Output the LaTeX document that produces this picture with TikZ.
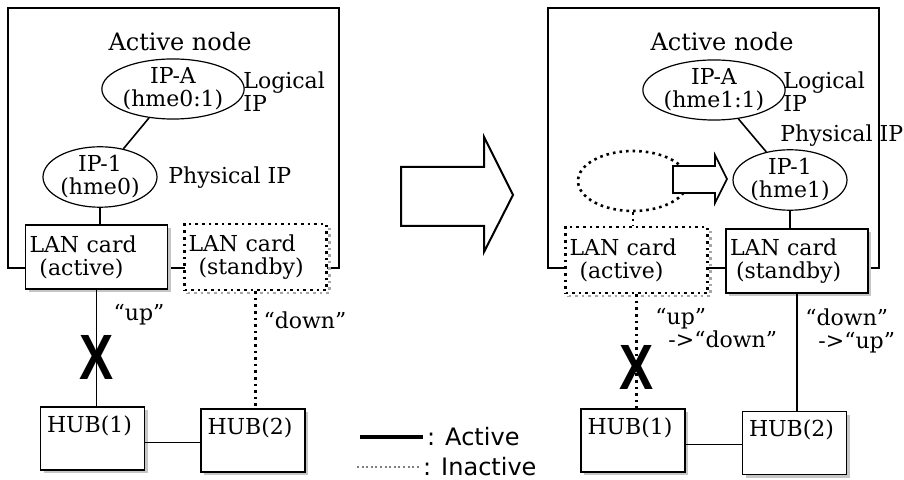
\documentclass[tikz,border=0pt]{standalone}
\usepackage{fontspec}
\setmainfont{DejaVu Serif}
\newfontfamily\legendfont{DejaVu Sans}
\newfontfamily\markfont{Liberation Sans}
\usetikzlibrary{shapes.geometric,shadows}
\tikzset{
  frame/.style={draw,line width=0.8pt},
  title/.style={font=\fontsize{12}{12}\selectfont},
  ipnode/.style={ellipse,draw,line width=0.6pt,fill=white,inner sep=0pt,minimum width=57pt,minimum height=24pt,align=center},
  ghost/.style={ellipse,draw,dotted,line width=1.3pt,minimum width=55pt,minimum height=30pt},
  note/.style={inner sep=0pt,align=left},
  card/.style={draw,line width=0.8pt,fill=white,minimum height=32pt,text width=67pt,inner xsep=2pt,align=left,
    drop shadow={opacity=1,fill=gray!45,shadow xshift=1.5pt,shadow yshift=-1.5pt}},
  offcard/.style={draw,dotted,line width=1.3pt,fill=white,minimum height=33pt,text width=67pt,inner xsep=2pt,align=left,
    general shadow={draw=gray!70,dotted,line width=1.3pt,shadow xshift=1.5pt,shadow yshift=-1.5pt}},
  hub/.style={draw,line width=0.9pt,fill=white,minimum width=52pt,minimum height=31.5pt,
    drop shadow={opacity=1,fill=gray!45,shadow xshift=1.5pt,shadow yshift=-1.5pt}},
  hubtext/.style={anchor=north west,inner sep=0pt,xshift=3.5pt,yshift=-4.5pt},
  live/.style={line width=0.8pt},
  dead/.style={dotted,line width=1.3pt},
  xmark/.style={inner sep=0pt,font=\markfont\bfseries\fontsize{32}{32}\selectfont},
  legendtext/.style={inner sep=1pt,anchor=west,font=\legendfont\fontsize{12}{12}\selectfont}
}
\begin{document}
\begin{tikzpicture}[x=0.5pt,y=-0.5pt,every node/.style={font=\fontsize{11}{11.5}\selectfont}]
\useasboundingbox (0,0) rectangle (904,480);
\draw[frame] (8,8) rectangle (339,268);
\node[title] (titleL) at (180,42) {Active node};
\node[ipnode,minimum height=22.5pt] (ipAL) at (173,89) {IP-A\\(hme0:1)};
\node[ipnode,minimum height=25.5pt] (ip1L) at (100,177) {IP-1\\(hme0)};
\node[note,anchor=west] (logL) at (243,92) {Logical\\IP};
\node[note,anchor=west] (phyL) at (168,178) {Physical IP};
\node[card] (lanAL) at (96.5,257) {LAN card\\\hspace*{5pt}(active)};
\node[offcard] (lanSL) at (255.5,257) {LAN card\\\hspace*{5pt}(standby)};
\node[hub,label={[hubtext]north west:HUB(1)}] (hub1L) at (92.5,438.5) {};
\node[hub,label={[hubtext]north west:HUB(2)}] (hub2L) at (253,440.5) {};
\draw[live] (ipAL) -- (ip1L);
\draw[live] (ip1L.south) -- (ip1L.south |- lanAL.north);
\draw[live] (lanAL.south) -- (lanAL.south |- hub1L.north);
\draw[dead] (lanSL.south) -- (lanSL.south |- hub2L.north);
\draw[live] ([yshift=-2pt]hub1L.east) -- ([yshift=-2pt]hub1L.east -| hub2L.west);
\node[xmark] (xL) at (97,357) {\scalebox{0.8}[1]{X}};
\node (upL) at (139,315) {“up”};
\node (downL) at (305,320) {“down”};

\draw[line width=1pt,line join=miter] (401,167) -- (484,167) -- (484,137) -- (513,195) -- (484,252) -- (484,226) -- (401,226) -- cycle;

\coordinate (legA) at (360,437);
\coordinate (legB) at (423,437);
\coordinate (legC) at (357,467);
\coordinate (legD) at (420,467);
\draw[line width=2pt] (legA) -- (legB) node[legendtext] (legAct) {: Active};
\draw[line width=1pt,gray,dash pattern=on 1pt off 1.3pt] (legC) -- (legD) node[legendtext,black] (legInact) {: Inactive};

\draw[frame] (548,8) rectangle (879,268);
\node[title] (titleR) at (722,42) {Active node};
\node[ipnode,minimum height=25pt] (ipAR) at (714,90) {IP-A\\(hme1:1)};
\node[ghost] (oldR) at (633,181) {};
\node[ipnode,minimum height=28pt] (ip1R) at (790,180) {IP-1\\(hme1)};
\node[note,anchor=west] (logR) at (783,92) {Logical\\IP};
\node[note,anchor=west] (phyR) at (780,136) {Physical IP};
\draw[line width=0.8pt,fill=white] (673,166) -- (715,166) -- (715,155) -- (727,179) -- (715,203) -- (715,193) -- (673,193) -- cycle;
\node[offcard] (lanAR) at (636.5,260) {LAN card\\\hspace*{5pt}(active)};
\node[card] (lanSR) at (797,261) {LAN card\\\hspace*{3pt}(standby)};
\node[hub,label={[hubtext]north west:HUB(1)}] (hub1R) at (633,440.5) {};
\node[hub,label={[hubtext]north west:HUB(2)}] (hub2R) at (794.5,443) {};
\draw[live] (ipAR) -- (ip1R);
\draw[live] (ip1R.south) -- (ip1R.south |- lanSR.north);
\draw[dead] (oldR.south) -- (oldR.south |- lanAR.north);
\draw[dead] (lanAR.south) -- (lanAR.south |- hub1R.north);
\draw[live] (lanSR.south) -- (lanSR.south |- hub2R.north);
\draw[live] ([yshift=-2pt]hub1R.east) -- ([yshift=-2pt]hub1R.east -| hub2R.west);
\node[xmark] (xR) at (637,367) {\scalebox{0.8}[1]{X}};
\node[note,anchor=west] (upR) at (655,328) {“up”\\\hspace*{6.5pt}->“down”};
\node[note,anchor=west] (downR) at (805,331) {“down”\\\hspace*{6.5pt}->“up”};
\end{tikzpicture}
\end{document}
